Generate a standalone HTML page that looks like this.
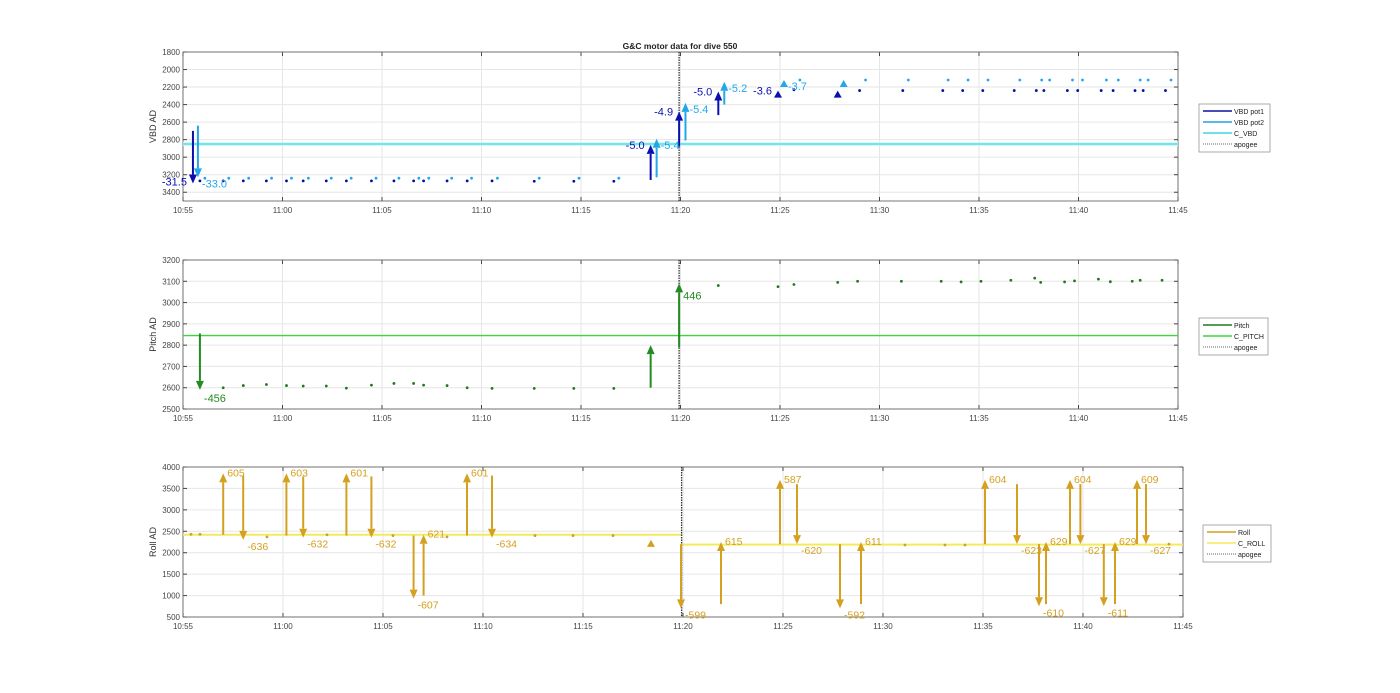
<!DOCTYPE html>
<html><head><meta charset="utf-8"><style>
body{margin:0;background:#fff;width:1400px;height:693px;overflow:hidden;font-family:"Liberation Sans",sans-serif}
svg{display:block}
</style></head><body>
<svg id="chart" width="1400" height="693" xmlns="http://www.w3.org/2000/svg" font-family="Liberation Sans, sans-serif">
<text x="680" y="49" font-size="8.5" font-weight="bold" text-anchor="middle" fill="#222">G&amp;C motor data for dive 550</text>
</svg>
<script>
// ---- time axis (minutes after 10:55) ----
const xTickLabels=["10:55","11:00","11:05","11:10","11:15","11:20","11:25","11:30","11:35","11:40","11:45"];
const apogeeT=[24.93];
// ---- VBD ----
const vbdYTicks=[1800,2000,2200,2400,2600,2800,3000,3200,3400];
const cVbd=[2850];
const pot1DotT=[0.85,2.02,3.03,4.19,5.2,6.04,7.2,8.21,9.47,10.6,11.59,12.09,13.27,14.28,15.53,17.65,19.64,21.65,30.7,34.0,36.17,38.18,39.18,40.19,41.77,42.88,43.26,44.44,44.96,46.14,46.74,47.84,48.25,49.37];
const pot1DotV=[3270,3270,3270,3270,3270,3270,3270,3270,3270,3270,3270,3270,3270,3270,3270,3275,3275,3275,2230,2240,2240,2240,2240,2240,2240,2240,2240,2240,2240,2240,2240,2240,2240,2240];
const pot2DotT=[1.1,2.3,3.3,4.45,5.45,6.3,7.45,8.45,9.7,10.85,11.85,12.35,13.5,14.5,15.8,17.9,19.9,21.9,31.0,34.3,36.45,38.45,39.45,40.45,42.05,43.15,43.55,44.7,45.2,46.4,47.0,48.1,48.5,49.65];
const pot2DotV=[3240,3240,3240,3240,3240,3240,3240,3240,3240,3240,3240,3240,3240,3240,3240,3240,3240,3240,2120,2120,2120,2120,2120,2120,2120,2120,2120,2120,2120,2120,2120,2120,2120,2120];
const pot1ArrT=[0.5,23.5,24.93,26.9,29.9,32.9];
const pot1ArrFrom=[2700,3260,2880,2520,2250,2250];
const pot1ArrTo=[3300,2860,2480,2250,2240,2240];
const pot1Labels=["-31.5","-5.0","-4.9","-5.0","-3.6",""];
const pot2ArrT=[0.75,23.8,25.25,27.2,30.2,33.2];
const pot2ArrFrom=[2640,3230,2810,2400,2130,2130];
const pot2ArrTo=[3230,2790,2380,2140,2120,2120];
const pot2Labels=["-33.0","-5.4","-5.4","-5.2","-3.7",""];
// ---- Pitch ----
const pitchYTicks=[2500,2600,2700,2800,2900,3000,3100,3200];
const cPitch=[2845];
const pitchDotT=[2.02,3.03,4.19,5.2,6.04,7.2,8.21,9.47,10.6,11.59,12.09,13.27,14.28,15.53,17.65,19.64,21.65,26.9,29.9,30.7,32.9,33.9,36.1,38.1,39.1,40.1,41.6,42.8,43.1,44.3,44.8,46.0,46.6,47.7,48.1,49.2];
const pitchDotV=[2600,2610,2615,2610,2608,2608,2598,2612,2620,2620,2612,2610,2600,2597,2597,2597,2597,3080,3075,3085,3095,3100,3100,3100,3097,3100,3105,3115,3095,3097,3102,3110,3098,3100,3105,3105];
const pitchArrT=[0.85,23.5,24.93];
const pitchArrFrom=[2855,2600,2790];
const pitchArrTo=[2590,2800,3090];
const pitchLabels=["-456","","446"];
// ---- Roll ----
const rollYTicks=[500,1000,1500,2000,2500,3000,3500,4000];
const cRollT=[0,24.93,50];
const cRollV=[2420,2190];
const rollDotT=[0.4,0.85,4.2,7.2,10.5,13.2,17.6,19.5,21.5,36.1,38.1,39.1,49.3];
const rollDotV=[2430,2430,2370,2420,2400,2370,2400,2400,2400,2180,2180,2180,2200];
const rollArrT=[2.01,3.01,5.17,6.01,8.17,9.42,11.53,12.03,14.2,15.45,23.4,24.9,26.9,29.85,30.7,32.85,33.9,40.1,41.7,42.8,43.15,44.35,44.87,46.04,46.6,47.7,48.15];
const rollArrFrom=[2420,3800,2400,3780,2400,3780,2400,1000,2400,3800,2150,2200,800,2200,3600,2200,800,2200,3600,2200,800,2200,3600,2200,800,2200,3600];
const rollArrTo=[3850,2300,3850,2350,3850,2350,930,2420,3850,2350,2300,700,2250,3700,2200,700,2250,3700,2200,750,2250,3700,2200,750,2250,3700,2200];
const rollLabels=["605","-636","603","-632","601","-632","-607","621","601","-634","","-599","615","587","-620","-592","611","604","-623","-610","629","604","-627","-611","629","609","-627"];

const NS="http://www.w3.org/2000/svg";
const svg=document.getElementById('chart');
function el(tag,attrs,parent){const e=document.createElementNS(NS,tag);for(const k in attrs)e.setAttribute(k,attrs[k]);(parent||svg).appendChild(e);return e;}

function makeAxes(o){
  const g=el('g',{});
  
  
  const xs=t=>o.l+(o.r-o.l)*t/50;
  const ys=v=>o.rev? o.t+(v-o.ymin)/(o.ymax-o.ymin)*(o.b-o.t) : o.b-(v-o.ymin)/(o.ymax-o.ymin)*(o.b-o.t);
  el('rect',{x:o.l,y:o.t,width:o.r-o.l,height:o.b-o.t,fill:'#fff'},g);
  xTickLabels.forEach((lab,i)=>{
    const x=xs(i*5);
    el('line',{x1:x,y1:o.t,x2:x,y2:o.b,stroke:'#e6e6e6','stroke-width':1},g);
    el('line',{x1:x,y1:o.t,x2:x,y2:o.t+4,stroke:'#444'},g);
    el('line',{x1:x,y1:o.b,x2:x,y2:o.b-4,stroke:'#444'},g);
    const tx=el('text',{x:x,y:o.b+12,'font-size':8,'text-anchor':'middle',fill:'#444'},g);
    
    
    tx.textContent=lab;
  });
  o.yt.forEach(v=>{
    const y=ys(v);
    el('line',{x1:o.l,y1:y,x2:o.r,y2:y,stroke:'#e6e6e6'},g);
    el('line',{x1:o.l,y1:y,x2:o.l+4,y2:y,stroke:'#444'},g);
    el('line',{x1:o.r,y1:y,x2:o.r-4,y2:y,stroke:'#444'},g);
    const tx=el('text',{x:o.l-3,y:y+3,'font-size':8,'text-anchor':'end',fill:'#444'},g);
    
    
    tx.textContent=v;
  });
  const yl=el('text',{x:0,y:0,'font-size':9,'text-anchor':'middle',fill:'#333',transform:`translate(${o.l-27},${(o.t+o.b)/2}) rotate(-90)`},g);
  
  
  yl.textContent=o.ylabel;
  el('rect',{x:o.l,y:o.t,width:o.r-o.l,height:o.b-o.t,fill:'none',stroke:'#555','stroke-width':0.8},g);
  return {g,xs,ys};
}
function apogee(ax,o){
  const x=ax.xs(apogeeT[0]);
  const l=el('line',{x1:x,y1:o.t,x2:x,y2:o.b,stroke:'#333','stroke-width':1.3,'stroke-dasharray':'1.5,1'},ax.g);
  
  
}
function hline(ax,o,v,color,w,name){
  const l=el('line',{x1:o.l,y1:ax.ys(v),x2:o.r,y2:ax.ys(v),stroke:color,'stroke-width':w},ax.g);
  
  
}
function dots(ax,T,V,color,name){
  T.forEach((t,i)=>{
    const c=el('circle',{cx:ax.xs(t),cy:ax.ys(V[i]),r:1.4,fill:color},ax.g);
    
    
  });
}
function arrows(ax,T,F,To,L,color,name,side,dy,fs){
  T.forEach((t,i)=>{
    const x=ax.xs(t),y1=ax.ys(F[i]),y2=ax.ys(To[i]);
    const dir=y2>y1?1:-1, hl=Math.min(9,Math.max(7,Math.abs(y2-y1)));
    const g=el('g',{},ax.g);
    
    
    if(Math.abs(y2-y1)>hl) el('line',{x1:x,y1:y1,x2:x,y2:y2-dir*hl,stroke:color,'stroke-width':2},g);
    el('polygon',{points:`${x-4},${y2-dir*hl} ${x+4},${y2-dir*hl} ${x},${y2}`,fill:color},g);
    if(L[i]){
      const s=typeof side==='function'?side(i):side;
      const tx=el('text',{x:s<0?x-6:x+4,y:y2+(typeof dy==='function'?dy(i,dir):dy),'font-size':fs,'text-anchor':s<0?'end':'start',fill:color},g);
      
      
      tx.textContent=L[i];
    }
  });
}
function legend(x,y,w,items){
  const g=el('g',{});
  
  
  el('rect',{x:x,y:y,width:w,height:items.length*11+4,fill:'#fff',stroke:'#888','stroke-width':0.7},g);
  items.forEach((it,i)=>{
    const yy=y+7+i*11;
    const e=el('g',{},g);
    
    
    el('line',{x1:x+4,y1:yy,x2:x+33,y2:yy,stroke:it[1],'stroke-width':it[2],'stroke-dasharray':it[3]||'none'},e);
    const t=el('text',{x:x+35,y:yy+3,'font-size':7,fill:'#222'},e);
    t.textContent=it[0];
  });
}

// top axes
const o1={name:'vbd-axes',l:183,r:1178,t:52,b:201,ymin:1800,ymax:3500,rev:true,yt:vbdYTicks,ylabel:'VBD AD'};
const a1=makeAxes(o1);
hline(a1,o1,cVbd[0],'#d4f8fa',4,'c-vbd-band');
hline(a1,o1,cVbd[0],'#3fd6e0',1.3,'c-vbd-line');
apogee(a1,o1);
dots(a1,pot1DotT,pot1DotV,'#0010a0','vbd-pot1-point');
dots(a1,pot2DotT,pot2DotV,'#22a8e8','vbd-pot2-point');
arrows(a1,pot1ArrT,pot1ArrFrom,pot1ArrTo,pot1Labels,'#0a10b0','vbd-pot1-arrow',-1,(i,d)=>d>0?2:4,11);
arrows(a1,pot2ArrT,pot2ArrFrom,pot2ArrTo,pot2Labels,'#22a8e8','vbd-pot2-arrow',1,(i,d)=>10,11);
legend(1199,104,71,[['VBD pot1','#0a10a0',1.5],['VBD pot2','#22a0e0',1.5],['C_VBD','#3fd6e0',1.5],['apogee','#333',0.8,'1,1']]);

// middle axes
const o2={name:'pitch-axes',l:183,r:1178,t:260,b:409,ymin:2500,ymax:3200,rev:false,yt:pitchYTicks,ylabel:'Pitch AD'};
const a2=makeAxes(o2);
hline(a2,o2,cPitch[0],'#3ad63a',1.3,'c-pitch-line');
apogee(a2,o2);
dots(a2,pitchDotT,pitchDotV,'#1f7a1f','pitch-point');
arrows(a2,pitchArrT,pitchArrFrom,pitchArrTo,pitchLabels,'#228b22','pitch-arrow',1,(i,d)=>d>0?12:16,11);
legend(1199,318,69,[['Pitch','#1f7a1f',1.5],['C_PITCH','#3ad63a',1.5],['apogee','#333',0.8,'1,1']]);

// bottom axes
const o3={name:'roll-axes',l:183,r:1183,t:467,b:617,ymin:500,ymax:4000,rev:false,yt:rollYTicks,ylabel:'Roll AD'};
const a3=makeAxes(o3);
for(let i=0;i<cRollV.length;i++){
  const l=el('line',{x1:a3.xs(cRollT[i]),y1:a3.ys(cRollV[i]),x2:a3.xs(cRollT[i+1]),y2:a3.ys(cRollV[i]),stroke:'#f4ea60','stroke-width':2},a3.g);
  
  
}
apogee(a3,o3);
dots(a3,rollDotT,rollDotV,'#c9a03a','roll-point');
arrows(a3,rollArrT,rollArrFrom,rollArrTo,rollLabels,'#d4a020','roll-arrow',1,(i,d)=>d>0?10:3,10.5);
legend(1203,525,68,[['Roll','#d4a020',1.5],['C_ROLL','#f4ea60',1.5],['apogee','#333',0.8,'1,1']]);
</script>
</body></html>
